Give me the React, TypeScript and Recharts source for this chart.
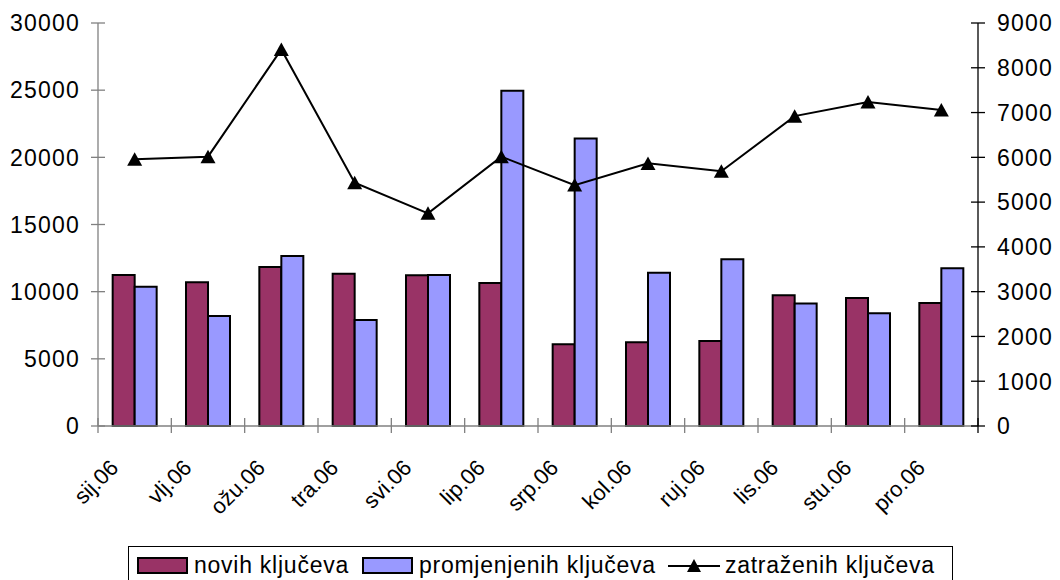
import { Bar, ComposedChart, Line, XAxis, YAxis } from 'recharts'

const months = ['sij.06', 'vlj.06', 'ožu.06', 'tra.06', 'svi.06', 'lip.06', 'srp.06', 'kol.06', 'ruj.06', 'lis.06', 'stu.06', 'pro.06']
const noviKljucevi = [11240, 10700, 11840, 11340, 11220, 10650, 6080, 6230, 6330, 9730, 9530, 9160]
const promjenjeniKljucevi = [10370, 8190, 12650, 7890, 11240, 24960, 21410, 11410, 12410, 9110, 8390, 11740]
const zatrazeniKljucevi = [5955, 6015, 8410, 5435, 4750, 6015, 5380, 5865, 5690, 6920, 7235, 7055]
const leftTicks = [0, 5000, 10000, 15000, 20000, 25000, 30000]
const rightTicks = [0, 1000, 2000, 3000, 4000, 5000, 6000, 7000, 8000, 9000]

const SERIES = {
  novi: { name: 'novih ključeva', color: '#993366' },
  promj: { name: 'promjenjenih ključeva', color: '#9999FF' },
  zatr: { name: 'zatraženih ključeva', color: '#000000' },
}

const data = months.map((m, i) => ({
  month: m,
  novi: noviKljucevi[i],
  promj: promjenjeniKljucevi[i],
  zatr: zatrazeniKljucevi[i],
}))

const FONT = '"Liberation Sans", Arial, sans-serif'
const W = 1060
const H = 580
const LEFT_W = 98
const RIGHT_W = 82
const BAND = (W - LEFT_W - RIGHT_W) / months.length
const AXIS_GREY = '#808080'

const LeftTick = (p: any) => (
  <g>
    <line x1={p.x + 11} x2={p.x + 25} y1={p.y} y2={p.y} stroke={AXIS_GREY} strokeWidth={1.3} />
    <text x={p.x} y={p.y} dy="0.36em" textAnchor="end" fontSize={23} letterSpacing={1.2} fontFamily={FONT} fill="#000">
      {p.payload.value}
    </text>
  </g>
)

const RightTick = (p: any) => (
  <g>
    <line x1={p.x - 26} x2={p.x - 12} y1={p.y} y2={p.y} stroke="#000" strokeWidth={1.3} />
    <text x={p.x} y={p.y} dy="0.36em" textAnchor="start" fontSize={23} letterSpacing={1.2} fontFamily={FONT} fill="#000">
      {p.payload.value}
    </text>
  </g>
)

const MonthTick = (p: any) => {
  const tx = p.x - 15
  const ty = p.y + 43
  return (
    <g>
      <line x1={p.x - BAND / 2} x2={p.x - BAND / 2} y1={p.y - 8} y2={p.y + 7} stroke={AXIS_GREY} strokeWidth={1.3} />
      {p.index === months.length - 1 && (
        <line x1={p.x + BAND / 2} x2={p.x + BAND / 2} y1={p.y - 8} y2={p.y + 7} stroke="#000" strokeWidth={1.3} />
      )}
      <text
        x={tx}
        y={ty}
        textAnchor="end"
        fontSize={22}
        fontFamily={FONT}
        fill="#000"
        transform={`rotate(-45 ${tx} ${ty})`}
      >
        {p.payload.value}
      </text>
    </g>
  )
}

// trokut kao marker za liniju
const Triangle = (p: any) => {
  if (p.cx == null || p.cy == null) return null
  const { cx, cy } = p
  return <polygon key={p.index} points={`${cx},${cy - 7} ${cx - 7.5},${cy + 6.5} ${cx + 7.5},${cy + 6.5}`} fill="#000" />
}

const swatch = (color: string) => (
  <span
    style={{
      display: 'inline-block',
      boxSizing: 'border-box',
      width: 51,
      height: 17,
      background: color,
      border: '2px solid #000',
      marginRight: 6,
    }}
  />
)

const LegendBox = () => (
  <div
    style={{
      position: 'absolute',
      left: 128,
      top: 546,
      boxSizing: 'border-box',
      width: 825,
      height: 34,
      border: '1px solid #000',
      borderBottom: 'none',
      background: '#fff',
      display: 'flex',
      alignItems: 'center',
      paddingLeft: 8,
      paddingTop: 3,
      fontFamily: FONT,
      fontSize: 23,
      letterSpacing: 0.75,
      color: '#000',
      whiteSpace: 'nowrap',
    }}
  >
    {swatch(SERIES.novi.color)}
    <span style={{ marginRight: 13 }}>{SERIES.novi.name}</span>
    {swatch(SERIES.promj.color)}
    <span style={{ marginRight: 12 }}>{SERIES.promj.name}</span>
    <svg width={52} height={18} style={{ marginRight: 5 }}>
      <line x1={0} x2={52} y1={10} y2={10} stroke="#000" strokeWidth={2} />
      <polygon points="26,3 19,16 33,16" fill="#000" />
    </svg>
    <span>{SERIES.zatr.name}</span>
  </div>
)

export default function App() {
  return (
    <div style={{ position: 'absolute', left: 0, top: 0, width: W, height: H, background: '#fff' }}>
      <ComposedChart
        width={W}
        height={H}
        data={data}
        margin={{ top: 23, right: 0, bottom: 0, left: 0 }}
        barCategoryGap="20%"
        barGap={0}
      >
        <XAxis
          dataKey="month"
          height={154}
          interval={0}
          stroke={AXIS_GREY}
          strokeWidth={1.3}
          tickLine={false}
          tickSize={0}
          tickMargin={0}
          tick={MonthTick}
        />
        <YAxis
          yAxisId="left"
          width={LEFT_W}
          domain={[0, 30000]}
          ticks={leftTicks}
          interval={0}
          stroke={AXIS_GREY}
          strokeWidth={1.3}
          tickLine={false}
          tickSize={0}
          tickMargin={18}
          tick={LeftTick}
        />
        <YAxis
          yAxisId="right"
          orientation="right"
          width={RIGHT_W}
          domain={[0, 9000]}
          ticks={rightTicks}
          interval={0}
          stroke="#000"
          strokeWidth={1.3}
          tickLine={false}
          tickSize={0}
          tickMargin={19}
          tick={RightTick}
        />
        <Bar yAxisId="left" dataKey="novi" name={SERIES.novi.name} fill={SERIES.novi.color} stroke="#000" strokeWidth={2} isAnimationActive={false} />
        <Bar yAxisId="left" dataKey="promj" name={SERIES.promj.name} fill={SERIES.promj.color} stroke="#000" strokeWidth={2} isAnimationActive={false} />
        <Line
          yAxisId="right"
          type="linear"
          dataKey="zatr"
          name={SERIES.zatr.name}
          stroke="#000"
          strokeWidth={2}
          dot={Triangle}
          activeDot={false}
          isAnimationActive={false}
        />
      </ComposedChart>
      <LegendBox />
    </div>
  )
}
